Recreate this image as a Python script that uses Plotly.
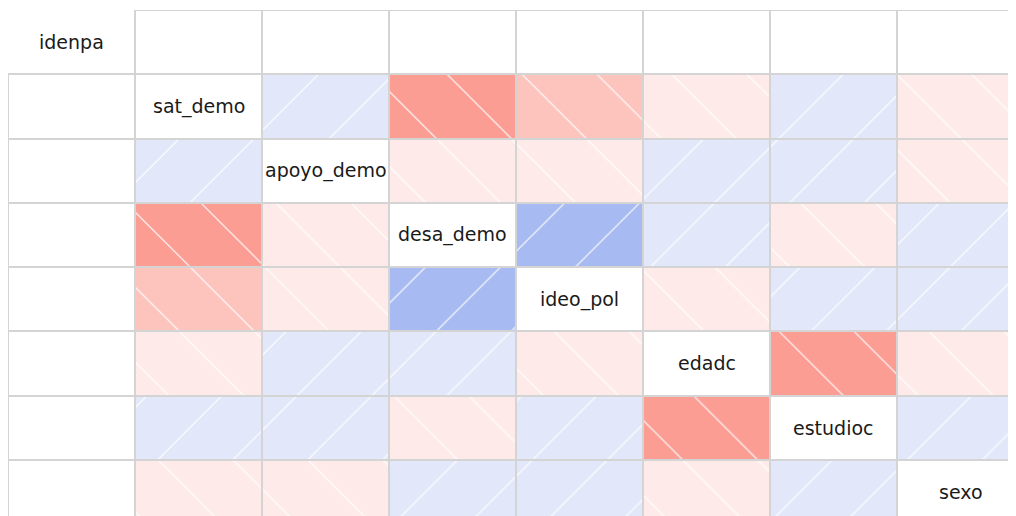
import plotly.graph_objects as go

variables = ["idenpa", "sat_demo", "apoyo_demo", "desa_demo", "ideo_pol", "edadc", "estudioc", "sexo"]

# correlations (idenpa is a factor -> no value)
corr_idenpa = [None, None, None, None, None, None, None, None]
corr_sat_demo = [None, 1.0, 0.05, -0.35, -0.20, -0.06, 0.04, -0.03]
corr_apoyo_demo = [None, 0.05, 1.0, -0.08, -0.05, 0.06, 0.07, -0.02]
corr_desa_demo = [None, -0.35, -0.08, 1.0, 0.21, 0.08, -0.07, 0.03]
corr_ideo_pol = [None, -0.20, -0.05, 0.21, 1.0, -0.04, 0.05, 0.02]
corr_edadc = [None, -0.06, 0.06, 0.08, -0.04, 1.0, -0.38, -0.03]
corr_estudioc = [None, 0.04, 0.07, -0.07, 0.05, -0.38, 1.0, 0.04]
corr_sexo = [None, -0.03, -0.02, 0.03, 0.02, -0.03, 0.04, 1.0]

matrix = [corr_idenpa, corr_sat_demo, corr_apoyo_demo, corr_desa_demo,
          corr_ideo_pol, corr_edadc, corr_estudioc, corr_sexo]

# corrgram-like ramp: red, salmon, white, royalblue, navy -> 14 levels
anchors = [(255, 0, 0), (250, 128, 114), (255, 255, 255), (65, 105, 225), (0, 0, 128)]
NCOL = 14


def ramp(n):
    out = []
    for i in range(n):
        pos = i / (n - 1) * (len(anchors) - 1)
        k = min(int(pos), len(anchors) - 2)
        t = pos - k
        a, b = anchors[k], anchors[k + 1]
        c = [round(a[j] + (b[j] - a[j]) * t) for j in range(3)]
        out.append("rgb(%d,%d,%d)" % tuple(c))
    return out


palette = ramp(NCOL)


def shade(r):
    idx = min(int((r + 1) / 2 * NCOL), NCOL - 1)
    return palette[idx]


# group cells by (colour, hatch) so each trace has a scalar marker colour
groups = {}
n = len(variables)
for i in range(n):
    for j in range(n):
        if i == 0 and j == 0:
            continue
        r = matrix[i][j]
        if r is None or i == j:
            key = ("white", "")
        else:
            key = (shade(r), "\\" if r < 0 else "/")
        groups.setdefault(key, ([], []))
        groups[key][0].append(j + 0.5)
        groups[key][1].append(i)

fig = go.Figure()
for (col, hatch), (xs, bases) in groups.items():
    fig.add_trace(go.Bar(
        x=xs, y=[1] * len(xs), base=bases, width=1,
        marker=dict(
            color=col,
            line=dict(color="#d4d4d4", width=2),
            pattern=dict(shape=hatch, bgcolor=col, fgcolor="white", fgopacity=1,
                         size=53, solidity=0.022),
        ),
        cliponaxis=False, hoverinfo="skip", showlegend=False,
    ))

for k, name in enumerate(variables):
    fig.add_annotation(x=k + 0.5, y=k + 0.5, text=name, showarrow=False,
                       font=dict(family="DejaVu Sans", size=19, color="#1a1a1a"))

fig.update_layout(
    width=1016, height=516,
    margin=dict(l=0, r=0, t=2, b=0),
    plot_bgcolor="white", paper_bgcolor="white",
    barmode="overlay", bargap=0,
    xaxis=dict(range=[0, 8], visible=False, fixedrange=True),
    yaxis=dict(range=[8, 0], visible=False, fixedrange=True),
)

fig.write_html("out.html")
